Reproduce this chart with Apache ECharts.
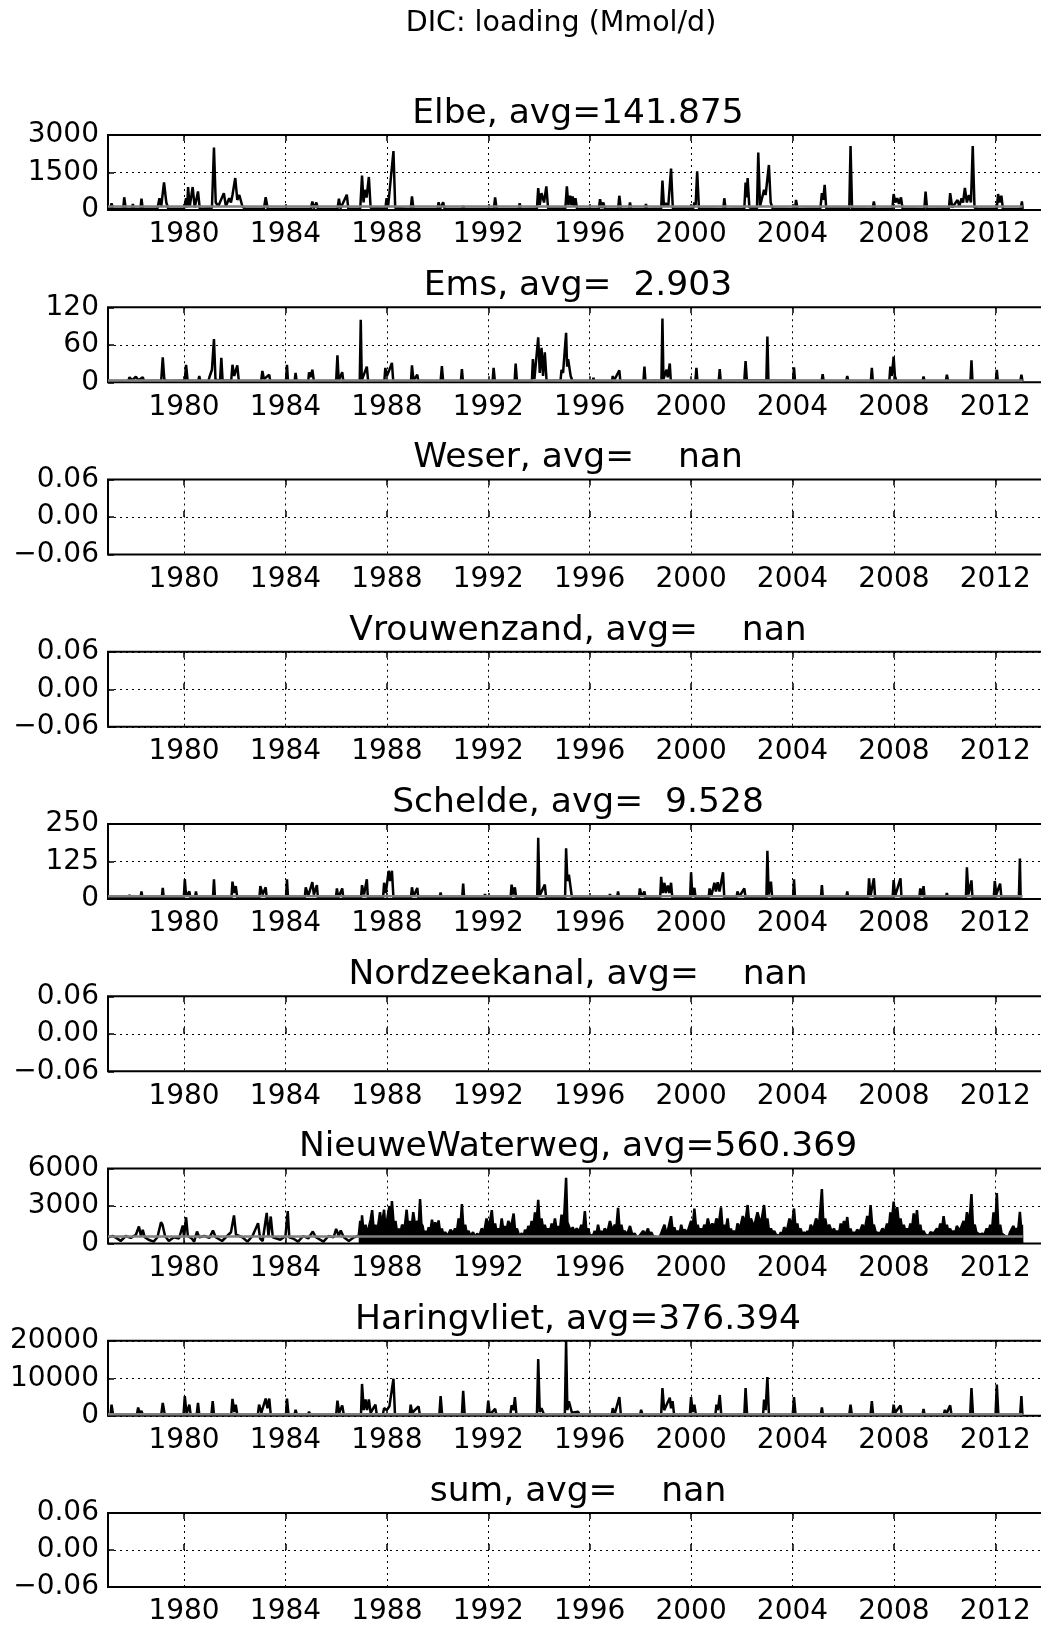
<!DOCTYPE html>
<html><head><meta charset="utf-8">
<script src="https://cdn.jsdelivr.net/npm/echarts@6/dist/echarts.min.js"></script>
<style>html,body{margin:0;padding:0;background:#fff;overflow:hidden;width:1041px;height:1626px}#c{width:1122px;height:1626px}</style>
</head><body><div id="c"></div><script>
const mainTitle = 'DIC: loading (Mmol/d)';
const panelNames = ['Elbe','Ems','Weser','Vrouwenzand','Schelde','Nordzeekanal','NieuweWaterweg','Haringvliet','sum'];
const avgText = ['141.875','  2.903','    nan','    nan','  9.528','    nan','560.369','376.394','    nan'];
const avgValues = [141.875, 2.903, null, null, 9.528, null, 560.369, 376.394, null];
const dataSpan = [1977.0, 2013.08];
const xTicks = [1980,1984,1988,1992,1996,2000,2004,2008,2012];
const yMax = [3000,120,0.06,0.06,250,0.06,6000,20000,0.06];
const yMin = [0,0,-0.06,-0.06,0,-0.06,0,0,-0.06];
const yInterval = [1500,60,0.06,0.06,125,0.06,3000,10000,0.06];

const elbe = [[1977.0,60],[1977.1,50],[1977.14,270],[1977.2,50],[1977.6,50],[1977.64,510],[1977.7,50],[1977.95,50],[1977.98,240],[1978.02,50],[1978.28,50],[1978.32,450],[1978.37,50],[1978.95,60],[1979.03,470],[1979.1,150],[1979.21,1100],[1979.3,300],[1979.38,50],
[1980.0,60],[1980.08,470],[1980.12,100],[1980.16,920],[1980.22,120],[1980.34,920],[1980.42,100],[1980.55,740],[1980.62,50],[1981.1,80],[1981.18,2500],[1981.25,300],[1981.35,150],[1981.57,675],[1981.65,150],[1981.78,470],[1981.85,300],[1981.91,600],[1982.02,1280],[1982.1,400],[1982.18,600],[1982.3,150],[1982.4,50],
[1983.15,50],[1983.22,510],[1983.3,50],[1985.0,40],[1985.06,340],[1985.12,60],[1985.22,300],[1985.28,40],
[1986.05,40],[1986.11,450],[1986.17,60],[1986.42,610],[1986.48,50],
[1986.95,60],[1987.02,1380],[1987.08,300],[1987.13,810],[1987.2,500],[1987.29,1320],[1987.36,80],
[1987.94,60],[1987.99,470],[1988.05,150],[1988.26,2360],[1988.33,80],[1988.94,40],[1988.99,540],[1989.05,40],
[1990.0,40],[1990.04,310],[1990.1,40],[1990.22,310],[1990.28,40],[1990.97,40],[1991.01,160],[1991.05,40],
[1992.22,40],[1992.27,500],[1992.33,40],[1993.2,40],[1993.24,270],[1993.28,40],
[1993.92,60],[1993.97,880],[1994.03,200],[1994.1,675],[1994.2,300],[1994.29,945],[1994.36,60],
[1995.04,60],[1995.1,945],[1995.16,200],[1995.23,570],[1995.28,200],[1995.33,540],[1995.38,150],[1995.44,470],[1995.5,50],
[1996.36,40],[1996.41,430],[1996.47,80],[1996.54,300],[1996.6,40],
[1997.12,40],[1997.17,570],[1997.23,40],[1997.55,40],[1997.59,300],[1997.64,40],[1998.18,40],[1998.22,240],[1998.26,40],
[1998.82,60],[1998.87,1175],[1998.93,150],[1999.0,270],[1999.1,150],[1999.21,1660],[1999.28,60],
[2000.08,60],[2000.13,300],[2000.18,200],[2000.24,1550],[2000.31,60],[2001.27,40],[2001.31,470],[2001.36,40],
[2002.1,60],[2002.15,1100],[2002.19,500],[2002.23,1280],[2002.3,100],[2002.6,60],[2002.65,2300],[2002.72,150],[2002.88,810],[2002.94,600],[2003.07,1800],[2003.14,300],[2003.22,60],
[2004.1,40],[2004.14,400],[2004.2,40],[2005.1,60],[2005.16,675],[2005.21,400],[2005.27,1010],[2005.33,60],
[2006.24,60],[2006.29,2560],[2006.35,60],[2007.16,40],[2007.21,340],[2007.26,40],
[2007.94,60],[2007.99,635],[2008.06,300],[2008.13,470],[2008.2,250],[2008.28,500],[2008.34,60],
[2009.2,40],[2009.25,740],[2009.31,40],
[2010.17,60],[2010.22,675],[2010.3,100],[2010.51,400],[2010.58,150],[2010.67,470],[2010.73,300],[2010.8,880],[2010.88,300],[2010.96,600],[2011.04,300],[2011.11,2560],[2011.18,100],[2011.3,50],
[2012.06,60],[2012.11,635],[2012.18,300],[2012.24,570],[2012.3,50],[2013.0,40],[2013.05,340],[2013.08,40]];

const ems = [[1977.0,3],[1977.1,2],[1977.14,5],[1977.18,2],[1977.8,2],[1977.85,8],[1977.95,3],[1978.1,9],[1978.2,3],[1978.37,8],[1978.42,2],
[1979.1,3],[1979.16,40],[1979.22,5],[1979.3,2],
[1980.03,3],[1980.08,28],[1980.14,3],[1980.56,2],[1980.6,10],[1980.64,2],[1980.96,2],[1981.0,8],[1981.1,20],[1981.18,69],[1981.24,4],[1981.42,3],[1981.47,39],[1981.52,3],[1981.86,3],[1981.91,28],[1981.98,10],[1982.1,27],[1982.16,2],
[1983.04,2],[1983.09,18],[1983.15,5],[1983.36,12],[1983.4,2],
[1984.02,2],[1984.06,28],[1984.1,2],[1984.36,2],[1984.4,15],[1984.44,2],[1984.9,2],[1984.93,16],[1984.99,8],[1985.06,20],[1985.12,2],
[1986.0,2],[1986.05,43],[1986.1,3],[1986.24,16],[1986.28,2],[1986.93,2],[1986.97,100],[1987.01,3],[1987.21,25],[1987.26,2],
[1987.9,2],[1987.94,23],[1988.0,10],[1988.1,20],[1988.2,31],[1988.25,2],
[1988.95,2],[1988.99,27],[1989.05,3],[1989.2,12],[1989.24,2],
[1990.12,2],[1990.17,26],[1990.22,2],[1990.92,2],[1990.96,21],[1991.0,2],
[1992.17,2],[1992.21,23],[1992.26,2],[1993.04,2],[1993.08,30],[1993.13,2],
[1993.72,2],[1993.76,37],[1993.82,5],[1993.97,72],[1994.03,15],[1994.1,55],[1994.16,10],[1994.23,48],[1994.3,2],
[1994.85,3],[1994.89,20],[1994.95,15],[1995.07,79],[1995.11,25],[1995.15,37],[1995.25,10],[1995.32,2],
[1996.12,2],[1996.15,7],[1996.18,2],[1996.88,2],[1996.91,10],[1996.95,2],[1997.17,19],[1997.21,2],
[1998.12,2],[1998.16,25],[1998.2,2],[1998.83,3],[1998.87,102],[1998.91,5],[1999.03,20],[1999.08,8],[1999.16,30],[1999.2,2],
[2000.17,2],[2000.21,23],[2000.25,2],[2001.09,2],[2001.13,21],[2001.17,2],
[2002.1,3],[2002.15,34],[2002.2,3],[2002.97,3],[2003.01,73],[2003.05,3],
[2004.02,2],[2004.06,24],[2004.1,2],[2005.15,2],[2005.19,13],[2005.23,2],[2006.12,2],[2006.16,10],[2006.2,2],
[2007.09,2],[2007.13,23],[2007.17,2],[2007.82,2],[2007.86,25],[2007.92,10],[2007.99,41],[2008.04,10],[2008.1,2],
[2009.13,2],[2009.17,9],[2009.21,2],[2010.05,2],[2010.09,12],[2010.14,2],
[2011.02,2],[2011.06,35],[2011.1,2],[2012.02,2],[2012.06,20],[2012.1,2],[2012.99,2],[2013.03,12],[2013.07,2]];

const schelde = [[1977.0,5],[1977.81,4],[1977.85,14],[1977.89,4],[1978.28,4],[1978.32,25],[1978.36,4],[1979.12,4],[1979.16,37],[1979.2,4],
[1979.99,4],[1980.03,66],[1980.08,10],[1980.21,25],[1980.25,4],[1980.43,4],[1980.47,25],[1980.51,4],
[1981.14,4],[1981.18,66],[1981.22,4],[1981.87,4],[1981.91,58],[1981.97,20],[1982.04,43],[1982.1,4],
[1982.97,4],[1983.01,43],[1983.1,15],[1983.22,39],[1983.26,4],
[1984.02,4],[1984.06,66],[1984.1,4],[1984.76,4],[1984.8,39],[1984.9,10],[1985.06,56],[1985.12,15],[1985.24,46],[1985.28,4],
[1985.99,4],[1986.03,35],[1986.08,4],[1986.24,35],[1986.28,4],
[1986.98,4],[1987.02,46],[1987.1,15],[1987.21,66],[1987.25,4],
[1987.85,4],[1987.89,54],[1987.96,20],[1988.07,94],[1988.13,60],[1988.2,94],[1988.26,4],
[1988.95,4],[1988.99,39],[1989.05,8],[1989.2,37],[1989.24,4],
[1990.08,4],[1990.12,22],[1990.16,4],[1990.97,4],[1991.01,51],[1991.05,4],[1991.83,4],[1991.87,16],[1991.91,4],
[1992.88,4],[1992.92,48],[1992.98,15],[1993.05,39],[1993.1,4],
[1993.93,4],[1993.97,204],[1994.02,10],[1994.23,48],[1994.28,4],
[1995.03,4],[1995.07,169],[1995.12,60],[1995.18,81],[1995.3,5],
[1996.76,4],[1996.8,16],[1996.84,4],[1997.08,4],[1997.12,25],[1997.16,4],
[1997.94,4],[1997.98,35],[1998.05,8],[1998.16,25],[1998.2,4],
[1998.78,5],[1998.82,74],[1998.88,20],[1998.95,54],[1999.0,20],[1999.08,45],[1999.14,20],[1999.21,54],[1999.26,4],
[1999.96,4],[2000.0,89],[2000.05,10],[2000.13,37],[2000.18,4],
[2000.69,4],[2000.73,35],[2000.8,10],[2000.92,54],[2000.98,25],[2001.05,56],[2001.12,25],[2001.26,89],[2001.31,4],
[2001.79,4],[2001.83,25],[2001.9,8],[2002.1,35],[2002.15,4],
[2002.97,4],[2003.01,161],[2003.06,15],[2003.15,58],[2003.2,4],
[2004.02,4],[2004.06,66],[2004.1,4],[2005.12,4],[2005.16,46],[2005.2,4],[2006.12,4],[2006.16,25],[2006.2,4],
[2006.98,4],[2007.02,69],[2007.08,10],[2007.21,69],[2007.26,4],
[2007.95,4],[2007.99,63],[2008.05,10],[2008.26,69],[2008.3,4],
[2009.0,4],[2009.04,35],[2009.1,10],[2009.17,43],[2009.21,4],[2010.05,4],[2010.09,20],[2010.13,4],
[2010.84,4],[2010.88,106],[2010.94,15],[2011.06,62],[2011.1,4],
[2011.94,4],[2011.98,60],[2012.04,15],[2012.19,51],[2012.24,4],
[2012.93,4],[2012.97,135],[2013.0,4]];

const nieuweWaterwegEarly = [[1977.0,500],[1977.2,600],[1977.4,350],[1977.5,200],[1977.7,600],[1977.9,450],[1978.1,700],[1978.22,1360],[1978.3,600],[1978.37,1100],[1978.45,500],[1978.6,300],[1978.8,150],[1978.95,500],[1979.09,1700],[1979.15,1500],[1979.25,600],[1979.4,200],[1979.6,500],[1979.8,400],[1979.95,1440],[1980.0,500],[1980.08,2100],[1980.15,600],[1980.3,400],[1980.4,150],[1980.51,960],[1980.6,500],[1980.8,600],[1981.0,450],[1981.14,1040],[1981.25,500],[1981.5,200],[1981.7,600],[1981.85,900],[1981.97,2240],[1982.05,700],[1982.3,500],[1982.5,150],[1982.7,600],[1982.92,1630],[1983.0,400],[1983.1,200],[1983.26,2450],[1983.33,600],[1983.42,2160],[1983.5,500],[1983.8,300],[1984.0,600],[1984.09,2590],[1984.15,500],[1984.3,400],[1984.5,150],[1984.7,600],[1984.9,400],[1985.08,960],[1985.2,500],[1985.5,150],[1985.7,600],[1985.9,500],[1986.0,1170],[1986.1,600],[1986.18,1040],[1986.3,500],[1986.5,200],[1986.7,500],[1986.87,600]];

const nieuweWaterwegLate = [[1986.89,600],[1986.95,1800],[1987.0,1200],[1987.02,2260],[1987.08,900],[1987.16,1500],[1987.22,800],[1987.29,1300],[1987.36,1900],[1987.42,2670],[1987.48,1100],[1987.55,1500],[1987.62,900],[1987.73,2500],[1987.8,1400],[1987.89,2700],[1987.94,1300],[1987.99,1600],[1988.05,2400],[1988.10,3000],[1988.15,1700],[1988.20,3400],[1988.27,1500],[1988.34,1800],[1988.4,900],[1988.47,1200],[1988.53,800],[1988.60,1500],[1988.7,1200],[1988.78,2700],[1988.84,1300],[1988.91,1800],[1988.97,1100],[1989.04,2500],[1989.12,1400],[1989.20,1800],[1989.25,1300],[1989.31,3550],[1989.36,1600],[1989.41,1400],[1989.46,800],[1989.52,1000],[1989.58,700],[1989.65,1300],[1989.72,1000],[1989.78,1900],[1989.84,1200],[1989.91,1700],[1989.97,1100],[1990.04,1850],[1990.1,900],[1990.17,1200],[1990.23,700],[1990.30,900],[1990.4,600],[1990.51,1100],[1990.6,800],[1990.69,1200],[1990.76,900],[1990.83,2000],[1990.9,1300],[1990.96,3160],[1991.02,1100],[1991.09,1500],[1991.15,800],[1991.22,1000],[1991.3,600],[1991.40,900],[1991.48,500],[1991.56,800],[1991.65,600],[1991.74,1200],[1991.84,900],[1991.93,2000],[1992.03,1300],[1992.14,2670],[1992.2,1200],[1992.27,1600],[1992.33,900],[1992.40,1200],[1992.47,1000],[1992.53,2000],[1992.6,1000],[1992.66,1400],[1992.72,1000],[1992.79,1800],[1992.9,1300],[1993.00,2400],[1993.06,1000],[1993.13,1200],[1993.22,600],[1993.32,800],[1993.4,600],[1993.45,1100],[1993.52,800],[1993.58,1400],[1993.65,1000],[1993.71,1800],[1993.78,1200],[1993.84,2500],[1993.9,1600],[1993.97,3490],[1994.03,1500],[1994.10,2000],[1994.17,1100],[1994.23,1500],[1994.3,900],[1994.36,1200],[1994.43,900],[1994.50,1600],[1994.56,1100],[1994.63,2000],[1994.7,1000],[1994.76,1400],[1994.83,1100],[1994.89,2300],[1994.98,1600],[1995.07,5260],[1995.12,1700],[1995.18,1800],[1995.25,1000],[1995.33,1300],[1995.4,900],[1995.49,1200],[1995.58,900],[1995.67,1500],[1995.74,1100],[1995.81,2600],[1995.87,1000],[1995.94,1200],[1996.0,700],[1996.07,800],[1996.13,600],[1996.20,1000],[1996.27,700],[1996.33,1500],[1996.4,800],[1996.46,1000],[1996.52,700],[1996.59,1200],[1996.7,900],[1996.80,1800],[1996.9,1000],[1996.99,1500],[1997.05,1200],[1997.12,2860],[1997.18,1200],[1997.25,1500],[1997.32,800],[1997.38,1000],[1997.48,700],[1997.59,1400],[1997.68,700],[1997.77,800],[1997.86,500],[1997.96,600],[1998.03,500],[1998.11,1000],[1998.2,700],[1998.30,1200],[1998.36,700],[1998.43,900],[1998.5,600],[1998.56,700],[1998.62,500],[1998.69,600],[1998.75,500],[1998.82,800],[1998.88,700],[1998.95,1500],[1999.02,800],[1999.08,1000],[1999.14,900],[1999.21,2180],[1999.28,900],[1999.34,1300],[1999.41,800],[1999.48,1000],[1999.55,800],[1999.61,1500],[1999.68,900],[1999.74,1100],[1999.86,900],[2000.00,1800],[2000.06,1200],[2000.13,2800],[2000.2,1200],[2000.26,1500],[2000.33,900],[2000.39,1200],[2000.45,900],[2000.52,1500],[2000.59,1100],[2000.66,2000],[2000.75,1200],[2000.84,1600],[2000.92,1200],[2001.00,2000],[2001.09,1500],[2001.18,2890],[2001.24,1200],[2001.31,1500],[2001.37,1100],[2001.44,2000],[2001.5,900],[2001.57,1200],[2001.63,800],[2001.70,1000],[2001.77,800],[2001.83,1600],[2001.93,1200],[2002.04,2200],[2002.13,1500],[2002.23,3080],[2002.3,1500],[2002.36,2000],[2002.48,1300],[2002.62,2500],[2002.75,1500],[2002.88,3080],[2002.95,1400],[2003.01,2000],[2003.08,900],[2003.15,1200],[2003.22,800],[2003.28,1000],[2003.35,700],[2003.41,800],[2003.48,600],[2003.54,900],[2003.6,700],[2003.67,1300],[2003.78,1000],[2003.88,2000],[2003.97,1300],[2004.06,2800],[2004.12,1200],[2004.19,1600],[2004.25,900],[2004.32,1200],[2004.39,700],[2004.46,900],[2004.52,700],[2004.59,1000],[2004.65,800],[2004.72,1500],[2004.82,1100],[2004.93,2000],[2005.05,1500],[2005.16,4360],[2005.22,1500],[2005.29,2000],[2005.37,1100],[2005.45,1500],[2005.55,900],[2005.64,1200],[2005.7,800],[2005.77,1000],[2005.84,800],[2005.90,1600],[2005.96,1100],[2006.03,1800],[2006.1,1200],[2006.16,2120],[2006.22,900],[2006.29,1200],[2006.35,700],[2006.42,900],[2006.48,700],[2006.55,1100],[2006.65,900],[2006.76,1500],[2006.85,1100],[2006.95,2200],[2007.02,1400],[2007.08,3080],[2007.15,1300],[2007.21,1500],[2007.28,900],[2007.34,1000],[2007.45,800],[2007.55,1200],[2007.64,900],[2007.73,1600],[2007.8,1200],[2007.86,2500],[2007.92,1700],[2007.99,3350],[2008.06,1800],[2008.13,2900],[2008.2,1500],[2008.26,2000],[2008.33,1100],[2008.39,1500],[2008.46,900],[2008.52,1200],[2008.58,900],[2008.65,1600],[2008.72,1200],[2008.78,2400],[2008.85,1500],[2008.91,2670],[2008.97,1200],[2009.04,1500],[2009.1,800],[2009.17,1000],[2009.24,700],[2009.31,800],[2009.38,600],[2009.44,900],[2009.57,800],[2009.70,1200],[2009.76,900],[2009.83,1600],[2009.9,1100],[2009.96,2180],[2010.03,1100],[2010.09,1500],[2010.15,900],[2010.22,1200],[2010.28,800],[2010.35,1000],[2010.42,800],[2010.48,1400],[2010.6,1000],[2010.75,1800],[2010.82,1300],[2010.88,2500],[2010.97,1500],[2011.06,3950],[2011.12,1300],[2011.19,1500],[2011.25,900],[2011.32,1000],[2011.4,700],[2011.48,800],[2011.57,700],[2011.66,1200],[2011.73,900],[2011.80,1500],[2011.87,1100],[2011.93,2500],[2012.0,1300],[2012.06,4030],[2012.12,1200],[2012.19,1500],[2012.25,800],[2012.32,800],[2012.38,600],[2012.45,600],[2012.52,500],[2012.58,900],[2012.65,800],[2012.71,1400],[2012.78,1000],[2012.84,1200],[2012.9,1000],[2012.97,2530],[2013.02,1200],[2013.05,1500],[2013.06,0]];

const haringvliet = [[1977.0,400],[1977.1,300],[1977.14,2950],[1977.2,300],[1978.14,300],[1978.19,2200],[1978.25,500],[1978.32,1300],[1978.37,300],
[1979.1,300],[1979.16,3400],[1979.24,300],[1979.98,300],[1980.03,5250],[1980.1,500],[1980.21,2950],[1980.26,300],[1980.5,300],[1980.55,3400],[1980.6,300],
[1981.08,300],[1981.13,3870],[1981.18,300],[1981.86,300],[1981.91,4500],[1981.98,1000],[1982.04,2950],[1982.1,300],
[1982.91,300],[1982.96,2950],[1983.05,800],[1983.22,4600],[1983.29,2000],[1983.36,4600],[1983.42,300],
[1984.02,300],[1984.06,4600],[1984.12,300],[1984.36,300],[1984.4,1570],[1984.45,300],[1984.89,300],[1984.93,1100],[1984.98,300],
[1986.0,300],[1986.05,4050],[1986.12,800],[1986.24,2770],[1986.3,300],
[1986.98,300],[1987.02,8480],[1987.09,1500],[1987.16,4330],[1987.22,1500],[1987.29,4330],[1987.36,800],[1987.55,2950],[1987.6,300],
[1987.84,300],[1987.89,2030],[1988.0,1500],[1988.1,2500],[1988.26,9860],[1988.32,300],
[1988.9,300],[1988.94,2950],[1989.0,800],[1989.25,2500],[1989.3,300],
[1990.07,300],[1990.12,5250],[1990.18,300],[1990.96,300],[1991.01,6640],[1991.07,300],
[1991.95,300],[1992.0,4050],[1992.06,300],[1992.27,1840],[1992.32,300],[1992.87,300],[1992.92,2770],[1993.0,1500],[1993.05,4980],[1993.11,300],
[1993.92,300],[1993.97,15120],[1994.03,1000],[1994.1,2030],[1994.2,300],
[1995.02,300],[1995.07,20000],[1995.12,1500],[1995.18,3870],[1995.3,800],[1995.54,1100],[1995.6,300],
[1996.87,300],[1996.91,2030],[1996.98,300],[1997.17,4980],[1997.23,300],[1997.99,300],[1998.03,1570],[1998.08,300],
[1998.82,300],[1998.87,7380],[1998.94,1500],[1999.16,4800],[1999.21,2000],[1999.27,3870],[1999.33,300],
[1999.95,300],[2000.0,4980],[2000.06,1000],[2000.13,2950],[2000.19,300],[2000.96,300],[2001.0,2950],[2001.06,1500],[2001.13,5530],[2001.19,300],
[2002.1,300],[2002.15,7380],[2002.21,300],[2002.84,300],[2002.88,4330],[2002.94,1500],[2003.01,10330],[2003.07,300],
[2004.01,300],[2004.06,4980],[2004.12,300],[2005.12,300],[2005.16,2200],[2005.2,300],[2006.24,300],[2006.29,2950],[2006.34,300],
[2007.08,300],[2007.13,3870],[2007.18,300],[2007.95,300],[2007.99,2950],[2008.05,800],[2008.26,2770],[2008.31,300],
[2009.13,300],[2009.17,1840],[2009.21,300],[2009.97,300],[2010.01,1570],[2010.06,300],[2010.22,2770],[2010.27,300],
[2011.01,300],[2011.06,7380],[2011.12,300],[2012.01,300],[2012.06,8300],[2012.12,300],[2012.98,300],[2013.03,5250],[2013.07,300]];

const panelLines = {0:[elbe],1:[ems],4:[schelde],6:[nieuweWaterwegEarly],7:[haringvliet]};
const panelAreas = {6:[nieuweWaterwegLate]};

const FONT = 'DejaVu Sans';
const X_MIN = 1977.0, X_MAX = 2014.0;
const GRID_LEFT = 108, GRID_RIGHT = 76, TOP0 = 135, STEP = 172.25, H = 75;
const titles = [{text: mainTitle, left: 561, top: 24, textAlign: 'center', textVerticalAlign: 'middle', padding: 0,
  textStyle: {fontFamily: FONT, fontSize: 28.5, fontWeight: 'normal', color: '#000'}}];
const grids = [], xAxes = [], yAxes = [], series = [];
const tickLine = {color: '#000', width: 1.5};
const dotted = {color: '#000', width: 1, type: [2, 4]};
const yFmt = (i) => (v) => {
  if (yInterval[i] < 1) { const s = Math.abs(v).toFixed(2); return (v < -1e-9 ? '\u2212' : '') + s; }
  return String(Math.round(v));
};
panelNames.forEach((name, i) => {
  const top = TOP0 + i * STEP;
  grids.push({left: GRID_LEFT, right: GRID_RIGHT, top: top, height: H, show: true, borderColor: '#000', borderWidth: 2, backgroundColor: 'transparent'});
  titles.push({text: name + ', avg=' + avgText[i], left: 578, top: top - 21, textAlign: 'center', textVerticalAlign: 'middle', padding: 0,
    textStyle: {fontFamily: FONT, fontSize: 34.5, fontWeight: 'normal', color: '#000'}});
  xAxes.push({type: 'value', gridIndex: i, min: X_MIN, max: X_MAX, position: 'bottom',
    axisLine: {show: false},
    axisTick: {show: true, inside: true, length: 6, lineStyle: tickLine, customValues: xTicks},
    axisLabel: {show: true, customValues: xTicks, formatter: (v) => String(v), fontFamily: FONT, fontSize: 28, color: '#000', margin: 11},
    splitLine: {show: true, lineStyle: dotted}});
  xAxes.push({type: 'value', gridIndex: i, min: X_MIN, max: X_MAX, position: 'top',
    axisLine: {show: false},
    axisTick: {show: true, inside: true, length: 6, lineStyle: tickLine, customValues: xTicks},
    axisLabel: {show: false}, splitLine: {show: false}});
  yAxes.push({type: 'value', gridIndex: i, min: yMin[i], max: yMax[i], interval: yInterval[i],
    axisLine: {show: false},
    axisTick: {show: true, inside: true, length: 6, lineStyle: tickLine},
    axisLabel: {formatter: yFmt(i), fontFamily: FONT, fontSize: 28, color: '#000', margin: 9, showMinLabel: true, showMaxLabel: true},
    splitLine: {show: true, lineStyle: dotted}});
  (panelAreas[i] || []).forEach((d) => series.push({type: 'line', xAxisIndex: 2 * i, yAxisIndex: i, data: d, symbol: 'none', silent: true,
    lineStyle: {color: '#000', width: 2.5}, areaStyle: {color: '#000', opacity: 1}, z: 2}));
  (panelLines[i] || []).forEach((d) => series.push({type: 'line', xAxisIndex: 2 * i, yAxisIndex: i, data: d, symbol: 'none', silent: true,
    lineStyle: {color: '#000', width: 2.5}, z: 2}));
  if (avgValues[i] !== null) {
    series.push({type: 'line', xAxisIndex: 2 * i, yAxisIndex: i, symbol: 'none', silent: true,
      data: [[dataSpan[0], avgValues[i]], [dataSpan[1], avgValues[i]]], lineStyle: {color: '#808080', width: 2.5}, z: 3});
  }
});
const chart = echarts.init(document.getElementById('c'), null, {renderer: 'canvas'});
chart.setOption({animation: false, backgroundColor: '#fff', title: titles, grid: grids, xAxis: xAxes, yAxis: yAxes, series: series});
</script></body></html>
